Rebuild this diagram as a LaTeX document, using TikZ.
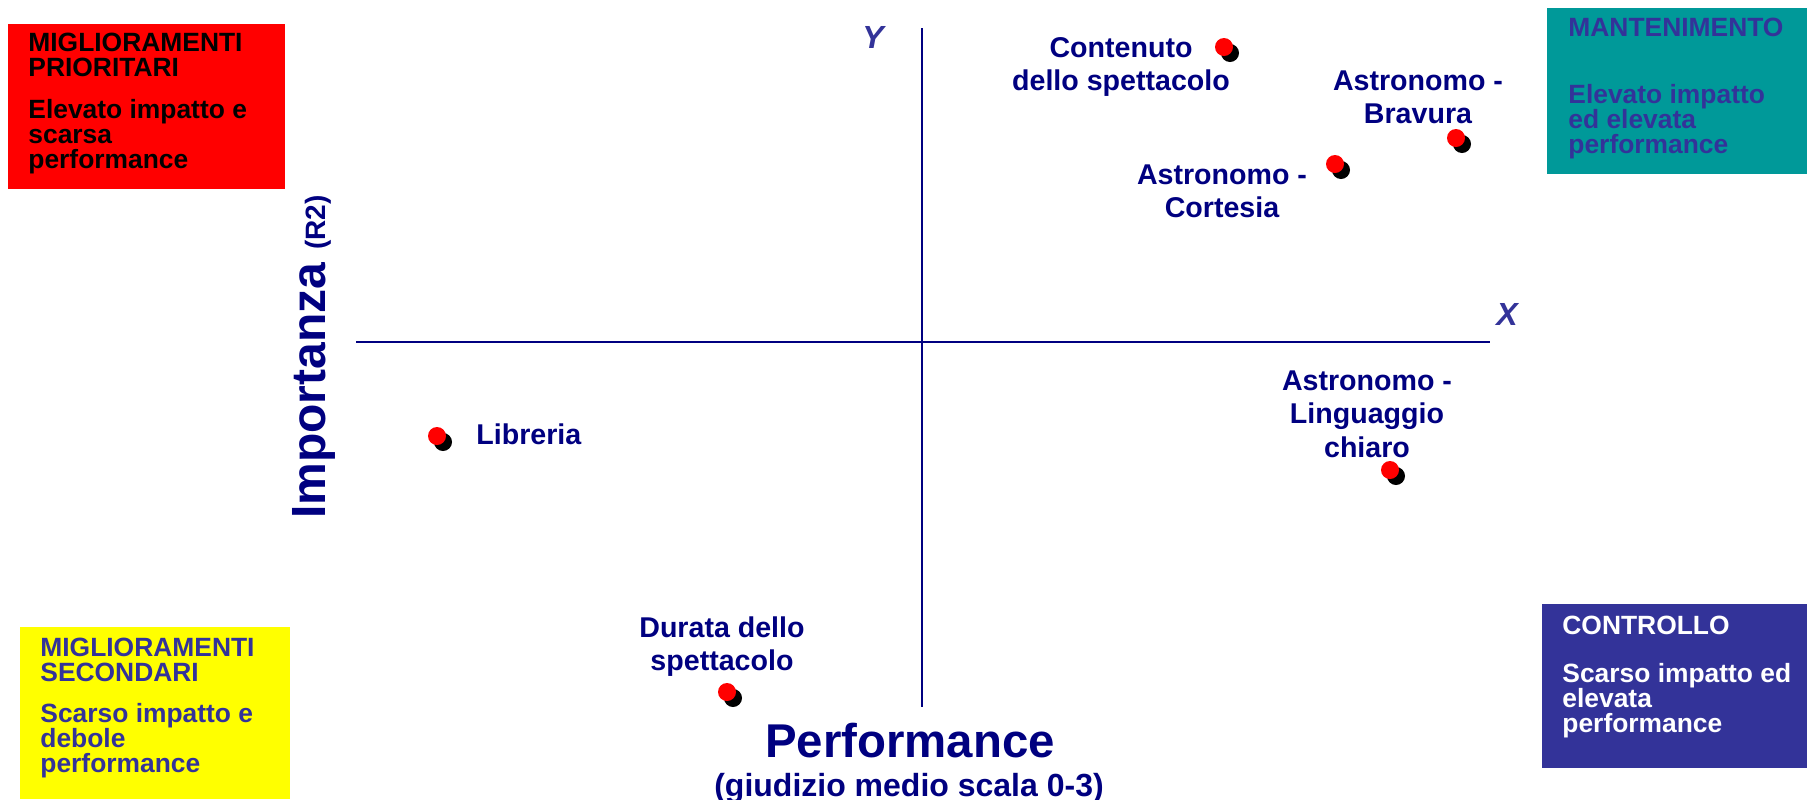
\documentclass[tikz,border=0pt]{standalone}
\usepackage{fontspec}
\setmainfont{Liberation Sans}
\usetikzlibrary{shadows}
\lineskiplimit=-8pt

\definecolor{boxred}{RGB}{255,0,0}
\definecolor{boxteal}{RGB}{0,153,153}
\definecolor{boxyellow}{RGB}{255,255,0}
\definecolor{boxblue}{RGB}{51,51,153}
\definecolor{labelnavy}{RGB}{0,0,128}

\tikzset{
  dot/.style={circle, fill=red, inner sep=0pt, minimum size=9pt,
    drop shadow={shadow xshift=3pt, shadow yshift=-3pt, opacity=1, fill=black}},
  pointlabel/.style={font=\fontsize{14.3}{16.8}\selectfont\bfseries, text=labelnavy,
    align=center, inner sep=0pt},
  boxtext/.style={font=\fontsize{13.2}{12.5}\selectfont\bfseries, align=left,
    inner sep=0pt, anchor=north west},
  axislabel/.style={font=\fontsize{16}{19}\selectfont\bfseries\itshape, text=boxblue,
    inner sep=0pt, anchor=base},
  axisline/.style={draw=labelnavy, line width=0.9pt},
}

\begin{document}
\begin{tikzpicture}[x=0.5pt,y=0.5pt,yscale=-1,xscale=1]
        \useasboundingbox (0,0) rectangle (1807,799);

        %Shape: Rectangle [quadrants]
        \fill[boxred] (8,24) rectangle (285,189);
        \fill[boxteal] (1547,8) rectangle (1807,174);
        \fill[boxyellow] (20,627) rectangle (290,799);
        \fill[boxblue] (1542,604) rectangle (1807,768);

        % Text Node
        \node[boxtext, text=black] (prioritari) at (28,33)
          {MIGLIORAMENTI\\PRIORITARI\\[8.5pt]Elevato impatto e\\scarsa\\performance};
        % Text Node
        \node[boxtext, text=boxblue] (mantenimento) at (1568,18)
          {MANTENIMENTO\\[21pt]Elevato impatto\\ed elevata\\performance};
        % Text Node
        \node[boxtext, text=boxblue] (secondari) at (40,638)
          {MIGLIORAMENTI\\SECONDARI\\[8pt]Scarso impatto e\\debole\\performance};
        % Text Node
        \node[boxtext, text=white] (controllo) at (1562,616)
          {CONTROLLO\\[11.5pt]Scarso impatto ed\\elevata\\performance};

        %Straight Lines [axes]
        \coordinate (ytop) at (922,28);
        \coordinate (ybot) at (922,707);
        \coordinate (xleft) at (356,342);
        \coordinate (xright) at (1490,342);
        \draw[axisline] (ytop) -- (ybot);
        \draw[axisline] (xleft) -- (xright);

        % Text Node
        \node[axislabel] (ylab) at (873,48) {Y};
        % Text Node
        \node[axislabel] (xlab) at (1507,325) {X};

        % Text Node
        \node[rotate=90, anchor=base, inner sep=0pt, text=labelnavy,
          font=\fontsize{24}{28}\selectfont\bfseries] (importanza) at (325,357)
          {Importanza {\fontsize{14}{16}\selectfont (R2)}};
        % Text Node
        \node[anchor=base, inner sep=0pt, text=labelnavy,
          font=\fontsize{23.7}{28}\selectfont\bfseries] (performance) at (910,757) {Performance};
        % Text Node
        \node[anchor=base, inner sep=0pt, text=labelnavy,
          font=\fontsize{16}{19}\selectfont\bfseries] (scala) at (909,796) {(giudizio medio scala 0-3)};

        %Shape: Circle [points]
        \node[dot] (contenuto) at (1224,47) {};
        \node[dot] (bravura) at (1456,138) {};
        \node[dot] (cortesia) at (1335,164) {};
        \node[dot] (libreria) at (437,436) {};
        \node[dot] (durata) at (727,692) {};
        \node[dot] (linguaggio) at (1390,470) {};

        % Text Node
        \node[pointlabel, anchor=north] (contenutolab) at (1121,37) {Contenuto\\dello spettacolo};
        % Text Node
        \node[pointlabel, anchor=north] (bravuralab) at (1418,70) {Astronomo -\\Bravura};
        % Text Node
        \node[pointlabel, anchor=north] (cortesialab) at (1222,164) {Astronomo -\\Cortesia};
        % Text Node
        \node[pointlabel, anchor=base west] (librerialab) at (476,444) {Libreria};
        % Text Node
        \node[pointlabel, anchor=north] (duratalab) at (722,616) {Durata dello\\spettacolo};
        % Text Node
        \node[pointlabel, anchor=north] (linguaggiolab) at (1367,370) {Astronomo -\\Linguaggio\\chiaro};
\end{tikzpicture}
\end{document}
